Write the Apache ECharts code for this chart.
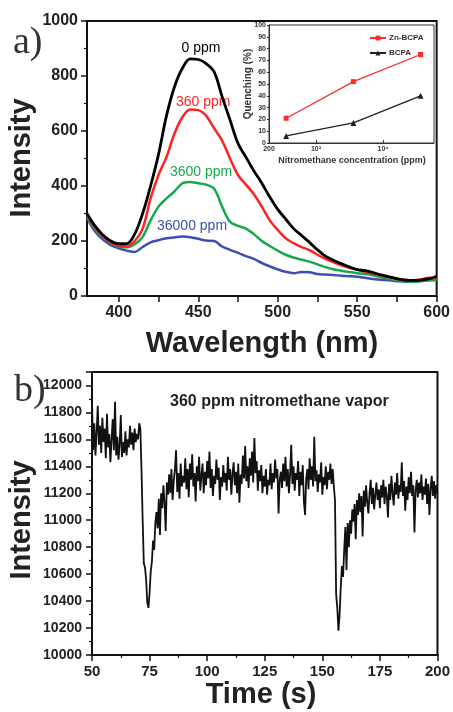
<!DOCTYPE html>
<html><head><meta charset="utf-8">
<script src="https://cdn.jsdelivr.net/npm/echarts@6/dist/echarts.min.js"></script>
<style>html,body{margin:0;padding:0;background:#fff}#c{width:453px;height:712px}</style>
</head><body><div id="c"></div>
<script>
// ---------- panel a: emission spectra ----------
const wavelength = [380,385,390,395,400,405,410,415,420,425,430,435,440,445,450,455,460,465,470,475,480,485,490,495,500,505,510,515,520,525,530,535,540,545,550,555,560,565,570,575,580,585,590,595,600];
const spec0ppm = [300,255,222,200,190,190,225,300,400,515,655,760,828,862,860,845,815,725,640,555,505,455,410,360,315,280,245,220,195,168,145,130,118,106,96,92,85,77,70,63,58,57,58,62,72];
const spec360ppm = [295,250,218,195,183,180,200,245,355,440,505,590,650,678,676,655,610,565,500,440,405,370,325,275,240,210,192,178,167,150,135,123,112,103,96,88,82,75,68,63,59,57,60,66,65];
const spec3600ppm = [292,245,215,193,180,177,188,215,275,325,355,380,410,415,410,405,390,325,270,255,245,225,200,182,165,150,140,132,125,115,105,97,92,87,83,80,75,68,63,58,54,52,55,58,58];
const spec36000ppm = [285,235,205,185,173,165,160,178,195,203,210,213,216,214,208,202,200,180,168,157,145,135,120,108,97,88,83,87,86,80,78,76,74,72,70,66,62,59,57,54,52,52,54,57,58];
const specTickValues = [400,425,450,475,500,525,550,575,600];
const specLabelValues = [400,450,500,550,600];

// ---------- inset: quenching ----------
const insetConc = [360, 3600, 36000];
const quenchZnBCPA = [21, 52, 75];
const quenchBCPA = [6, 17, 40];

// ---------- panel b: time trace ----------
const timeSeconds = [
50,50.5,51,51.5,52,52.5,53,53.5,54,54.5,
55,55.5,56,56.5,57,57.5,58,58.5,59,59.5,
60,60.5,61,61.5,62,62.5,63,63.5,64,64.5,
65,65.5,66,66.5,67,67.5,68,68.5,69,69.5,
70,70.5,71,71.5,72,72.5,73,73.5,74,74.5,
75,75.5,76,76.5,77,77.5,78,78.5,79,79.5,
80,80.5,81,81.5,82,82.5,83,83.5,84,84.5,
85,85.5,86,86.5,87,87.5,88,88.5,89,89.5,
90,90.5,91,91.5,92,92.5,93,93.5,94,94.5,
95,95.5,96,96.5,97,97.5,98,98.5,99,99.5,
100,100.5,101,101.5,102,102.5,103,103.5,104,104.5,
105,105.5,106,106.5,107,107.5,108,108.5,109,109.5,
110,110.5,111,111.5,112,112.5,113,113.5,114,114.5,
115,115.5,116,116.5,117,117.5,118,118.5,119,119.5,
120,120.5,121,121.5,122,122.5,123,123.5,124,124.5,
125,125.5,126,126.5,127,127.5,128,128.5,129,129.5,
130,130.5,131,131.5,132,132.5,133,133.5,134,134.5,
135,135.5,136,136.5,137,137.5,138,138.5,139,139.5,
140,140.5,141,141.5,142,142.5,143,143.5,144,144.5,
145,145.5,146,146.5,147,147.5,148,148.5,149,149.5,
150,150.5,151,151.5,152,152.5,153,153.5,154,154.5,
155,155.5,156,156.5,157,157.5,158,158.5,159,159.5,
160,160.5,161,161.5,162,162.5,163,163.5,164,164.5,
165,165.5,166,166.5,167,167.5,168,168.5,169,169.5,
170,170.5,171,171.5,172,172.5,173,173.5,174,174.5,
175,175.5,176,176.5,177,177.5,178,178.5,179,179.5,
180,180.5,181,181.5,182,182.5,183,183.5,184,184.5,
185,185.5,186,186.5,187,187.5,188,188.5,189,189.5,
190,190.5,191,191.5,192,192.5,193,193.5,194,194.5,
195,195.5,196,196.5,197,197.5,198,198.5,199,199.5,
200];
const intensityTrace = [
11880,11520,11720,11480,11650,11850,11560,11700,11500,11760,
11580,11680,11460,11790,11540,11640,11430,11600,11750,11520,
11880,11480,11620,11450,11560,11780,11470,11580,11500,11660,
11480,11600,11540,11700,11560,11650,11520,11680,11580,11640,
11600,11720,11680,11370,11000,10680,10650,10560,10390,10350,
10460,10620,10690,10850,10780,10980,11060,10940,11160,10890,
11200,11090,11260,11130,10920,11280,11190,11340,11200,11380,
11150,11290,11380,11520,11210,11350,11160,11420,11250,11330,
11280,11460,11230,11380,11170,11420,11300,11490,11250,11350,
11140,11400,11290,11470,11220,11330,11420,11200,11360,11260,
11440,11310,11510,11240,11380,11180,11330,11270,11450,11300,
11390,11150,11320,11250,11410,11280,11350,11220,11470,11300,
11380,11190,11340,11430,11260,11360,11200,11420,11130,11340,
11270,11480,11310,11550,11290,11400,11240,11460,11330,11510,
11280,11610,11350,11440,11220,11370,11290,11410,11200,11330,
11250,11380,11190,11300,11260,11420,11230,11350,11280,11450,
11310,11380,11050,11300,11360,11240,11420,11290,11470,11250,
11380,11200,11340,11560,11270,11400,11220,11350,11300,11440,
11180,11360,11260,11410,11140,11040,11310,11380,11230,11460,
11300,11400,11250,11620,11290,11370,11210,11340,11280,11430,
11190,11320,11260,11400,11230,11360,11300,11420,11270,11380,
11250,11150,10450,10350,10180,10300,10500,10660,10580,10780,
10950,10630,10980,10800,11000,10900,11080,10990,11120,10860,
11150,11040,11200,11060,11180,10880,11220,11100,11260,11130,
11050,11200,11300,11120,11240,11080,11190,11280,11150,11230,
11090,11260,11170,11300,11120,11250,11180,11020,11270,11150,
11330,11200,11110,11280,11190,11350,11160,11260,11210,11430,
11180,11290,11070,11250,11150,11320,11200,11360,11180,11260,
10910,11220,11300,11170,11280,11200,11340,11150,11250,11190,
11310,11120,11270,11040,11230,11330,11180,11290,11160,11260,
11200];

const F = "'Liberation Sans', Arial, Helvetica, sans-serif";
const SERIF = "'Liberation Serif', 'Times New Roman', serif";
const AX = '#111', TXT = '#222';
const pair = (xs, ys) => xs.map((x, i) => [x, ys[i]]);
const plain = v => String(v);

const chart = echarts.init(document.getElementById('c'), null, {renderer: 'canvas'});

const boldLabel = (size, extra) => Object.assign({fontFamily: F, fontWeight: 'bold', fontSize: size, color: TXT, formatter: plain}, extra || {});

const option = {
  animation: false,
  backgroundColor: '#fff',
  grid: [
    {left: 87, top: 21, width: 350, height: 275, show: true, borderColor: AX, borderWidth: 2, backgroundColor: 'transparent'},
    {left: 269, top: 25, width: 165, height: 118, show: true, borderColor: '#333', borderWidth: 1, backgroundColor: '#fff'},
    {left: 92, top: 372, width: 346, height: 283, show: true, borderColor: AX, borderWidth: 2, backgroundColor: 'transparent'}
  ],
  legend: {
    data: ['Zn-BCPA', 'BCPA'],
    orient: 'vertical', left: 364, top: 29, itemWidth: 16, itemHeight: 6, itemGap: 7,
    textStyle: {fontFamily: F, fontWeight: 'bold', fontSize: 8, color: '#333', padding: [0, 0, 0, -2]}
  },
  xAxis: [
    {type: 'value', gridIndex: 0, min: 380, max: 600,
     axisLine: {show: true, lineStyle: {color: AX, width: 2}},
     axisTick: {show: true, customValues: specTickValues, length: 6, lineStyle: {color: AX, width: 1.5}},
     axisLabel: boldLabel(16, {customValues: specLabelValues, margin: 9}),
     splitLine: {show: false}},
    {type: 'log', gridIndex: 1, min: 200, max: 57000, logBase: 10,
     axisLine: {show: true, lineStyle: {color: '#333', width: 1}},
     axisTick: {show: true, inside: true, length: 3, lineStyle: {color: '#333'}},
     axisLabel: boldLabel(7, {margin: 3, color: '#333', showMaxLabel: false,
       formatter: v => Math.abs(v - 200) < 1 ? '200' : Math.abs(v - 1000) < 1 ? '10\u00B3' : Math.abs(v - 10000) < 1 ? '10\u2074' : ''}),
     splitLine: {show: false}},
    {type: 'value', gridIndex: 2, min: 50, max: 200, interval: 25,
     axisLine: {show: true, lineStyle: {color: AX, width: 2}},
     axisTick: {show: true, length: 6, lineStyle: {color: AX, width: 1.5}},
     minorTick: {show: true, splitNumber: 2, length: 3, lineStyle: {color: AX, width: 1.2}},
     axisLabel: boldLabel(15, {margin: 9}),
     splitLine: {show: false}}
  ],
  yAxis: [
    {type: 'value', gridIndex: 0, min: 0, max: 1000, interval: 200,
     axisLine: {show: true, lineStyle: {color: AX, width: 2}},
     axisTick: {show: true, length: 6, lineStyle: {color: AX, width: 1.5}},
     minorTick: {show: true, splitNumber: 2, length: 3, lineStyle: {color: AX, width: 1.2}},
     axisLabel: boldLabel(16, {margin: 9}),
     splitLine: {show: false}},
    {type: 'value', gridIndex: 1, min: 0, max: 100, interval: 10,
     axisLine: {show: true, lineStyle: {color: '#333', width: 1}},
     axisTick: {show: true, inside: false, length: 2, lineStyle: {color: '#333'}},
     axisLabel: boldLabel(7, {margin: 3, color: '#333'}),
     splitLine: {show: false}},
    {type: 'value', gridIndex: 2, min: 10000, max: 12100, interval: 200,
     axisLine: {show: true, lineStyle: {color: AX, width: 2}},
     axisTick: {show: true, length: 6, lineStyle: {color: AX, width: 1.5}},
     minorTick: {show: true, splitNumber: 2, length: 3, lineStyle: {color: AX, width: 1.2}},
     axisLabel: boldLabel(14, {margin: 10, showMaxLabel: false}),
     splitLine: {show: false}}
  ],
  series: [
    {name: '36000 ppm', type: 'line', xAxisIndex: 0, yAxisIndex: 0, data: pair(wavelength, spec36000ppm), showSymbol: false, smooth: 0.35, lineStyle: {color: '#3c4fb4', width: 2.5}},
    {name: '3600 ppm', type: 'line', xAxisIndex: 0, yAxisIndex: 0, data: pair(wavelength, spec3600ppm), showSymbol: false, smooth: 0.35, lineStyle: {color: '#17a84b', width: 2.5}},
    {name: '360 ppm', type: 'line', xAxisIndex: 0, yAxisIndex: 0, data: pair(wavelength, spec360ppm), showSymbol: false, smooth: 0.35, lineStyle: {color: '#ff2222', width: 2.5}},
    {name: '0 ppm', type: 'line', xAxisIndex: 0, yAxisIndex: 0, data: pair(wavelength, spec0ppm), showSymbol: false, smooth: 0.35, lineStyle: {color: '#000', width: 2.8}},
    {name: 'Zn-BCPA', type: 'line', xAxisIndex: 1, yAxisIndex: 1, data: pair(insetConc, quenchZnBCPA), symbol: 'rect', symbolSize: 5, itemStyle: {color: '#ff2a2a'}, lineStyle: {color: '#ff2a2a', width: 1.3}, z: 5},
    {name: 'BCPA', type: 'line', xAxisIndex: 1, yAxisIndex: 1, data: pair(insetConc, quenchBCPA), symbol: 'triangle', symbolSize: 6, itemStyle: {color: '#222'}, lineStyle: {color: '#222', width: 1.3}, z: 5},
    {name: 'trace', type: 'line', xAxisIndex: 2, yAxisIndex: 2, data: pair(timeSeconds, intensityTrace), showSymbol: false, symbol: 'none', lineStyle: {color: '#111', width: 1.8}}
  ],
  graphic: [
    {type: 'text', left: 13, top: 24, style: {text: 'a)', font: '38px ' + SERIF, fill: '#333'}},
    {type: 'text', left: 14, top: 372, style: {text: 'b)', font: '38px ' + SERIF, fill: '#333'}},
    {type: 'text', x: 22, y: 158, rotation: Math.PI / 2, style: {text: 'Intensity', font: 'bold 29px ' + F, fill: TXT, textAlign: 'center', textVerticalAlign: 'middle'}},
    {type: 'text', x: 262, y: 344, style: {text: 'Wavelength (nm)', font: 'bold 29px ' + F, fill: TXT, textAlign: 'center', textVerticalAlign: 'middle'}},
    {type: 'text', x: 22, y: 520, rotation: Math.PI / 2, style: {text: 'Intensity', font: 'bold 29px ' + F, fill: TXT, textAlign: 'center', textVerticalAlign: 'middle'}},
    {type: 'text', x: 261, y: 695, style: {text: 'Time (s)', font: 'bold 29px ' + F, fill: TXT, textAlign: 'center', textVerticalAlign: 'middle'}},
    {type: 'text', x: 201, y: 48, style: {text: '0 ppm', font: '14px ' + F, fill: '#000', textAlign: 'center', textVerticalAlign: 'middle'}},
    {type: 'text', x: 176, y: 102, style: {text: '360 ppm', font: '14px ' + F, fill: '#ff2222', textAlign: 'left', textVerticalAlign: 'middle'}},
    {type: 'text', x: 170, y: 172, style: {text: '3600 ppm', font: '14px ' + F, fill: '#17a84b', textAlign: 'left', textVerticalAlign: 'middle'}},
    {type: 'text', x: 157, y: 226, style: {text: '36000 ppm', font: '14px ' + F, fill: '#3c4fb4', textAlign: 'left', textVerticalAlign: 'middle'}},
    {type: 'text', x: 248, y: 84, rotation: Math.PI / 2, style: {text: 'Quenching (%)', font: 'bold 10px ' + F, fill: '#333', textAlign: 'center', textVerticalAlign: 'middle'}},
    {type: 'text', x: 352, y: 161, style: {text: 'Nitromethane concentration (ppm)', font: 'bold 9px ' + F, fill: '#333', textAlign: 'center', textVerticalAlign: 'middle'}},
    {type: 'text', x: 170, y: 402, style: {text: '360 ppm nitromethane vapor', font: 'bold 16px ' + F, fill: TXT, textAlign: 'left', textVerticalAlign: 'middle'}}
  ]
};
chart.setOption(option);
</script>
</body></html>
